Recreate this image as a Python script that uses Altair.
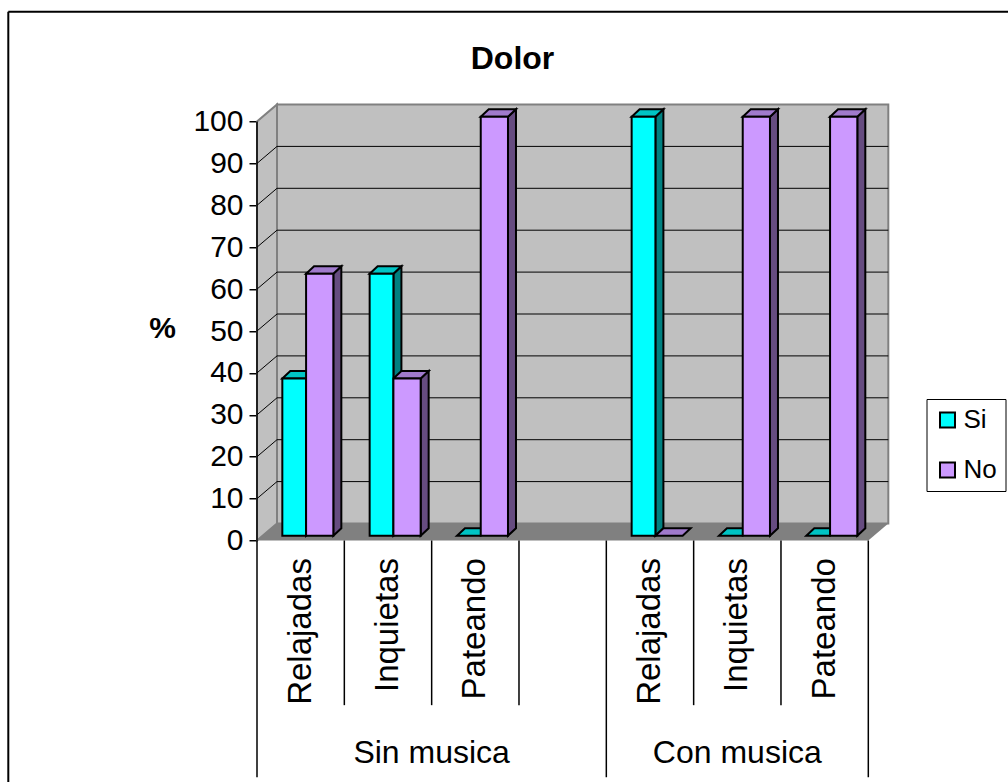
import altair as alt
import pandas as pd

# ---- chart values ----
title_text = "Dolor"
categories = ["Relajadas", "Inquietas", "Pateando", "", "Relajadas", "Inquietas", "Pateando"]
groups = ["Sin musica", "Con musica"]
group_spans = [(0, 4), (4, 7)]          # slot range covered by each group
series = ["Si", "No"]
si_values = [37.5, 62.5, 0, None, 100, 0, 0]
no_values = [62.5, 37.5, 100, None, 0, 100, 100]
y_ticks = list(range(0, 101, 10))

front_colors = ["#00FFFF", "#CC99FF"]
top_colors = ["#00C4C4", "#A07ACC"]
side_colors = ["#008080", "#664C80"]

FONT = "Liberation Sans"

# ---- 3D box geometry (x in category slots, y in percent) ----
N_SLOTS = len(categories)
SLOT_PX = 87.33
UNIT_PX = 4.19
WALL_DX = 20 / SLOT_PX
WALL_DY = 17 / UNIT_PX
XMAX = N_SLOTS + WALL_DX
YMAX = 100 + WALL_DY + 0.3
W = XMAX * SLOT_PX
H = YMAX * UNIT_PX

BAR_EDGES = [0.29, 0.562, 0.874]        # Si from edge0 to edge1, No from edge1 to edge2
BAR_DX = 8 / SLOT_PX
BAR_DY = 7.5 / UNIT_PX
BAR_BASE = 1.14

LABEL_TOP = -4.2
SHORT_SEP = -39.3
LONG_SEP = -56.5
GROUP_BASE = -53.1

PAD_L = 257
PAD_T = 540.5 - H

xs = alt.Scale(domain=[0, XMAX], nice=False, zero=False)
ys = alt.Scale(domain=[0, YMAX], nice=False, zero=False)

fronts, sides, tops = [], [], []
for s_i, (name, vals) in enumerate(zip(series, [si_values, no_values])):
    e0, e1 = BAR_EDGES[s_i], BAR_EDGES[s_i + 1]
    for i, v in enumerate(vals):
        if v is None:
            continue
        key = f"{name}-{i}"
        tops.append(dict(series=name, key=key, y=BAR_BASE + v, x=i + e0, x2=i + e1))
        tops.append(dict(series=name, key=key, y=BAR_BASE + v + BAR_DY,
                         x=i + e0 + BAR_DX, x2=i + e1 + BAR_DX))
        if v > 0:
            fronts.append(dict(series=name, x=i + e0, x2=i + e1, y=BAR_BASE, y2=BAR_BASE + v))
            sides.append(dict(series=name, key=key, x=i + e1, lo=BAR_BASE, hi=BAR_BASE + v))
            sides.append(dict(series=name, key=key, x=i + e1 + BAR_DX,
                              lo=BAR_BASE + BAR_DY, hi=BAR_BASE + v + BAR_DY))
fronts = pd.DataFrame(fronts)
sides = pd.DataFrame(sides)
tops = pd.DataFrame(tops)

one_row = pd.DataFrame({"k": [0]})

# ---- walls and floor ----
back_wall = alt.Chart(pd.DataFrame([dict(x=WALL_DX, x2=XMAX, y=WALL_DY, y2=100 + WALL_DY)])).mark_rect(
    fill="#C0C0C0", stroke="#808080", strokeWidth=2
).encode(
    x=alt.X("x:Q", scale=xs, axis=None),
    x2="x2:Q",
    y=alt.Y("y:Q", scale=ys, axis=alt.Axis(
        values=y_ticks, domain=False, grid=False, tickColor="#000000", tickSize=8, tickWidth=1.5,
        labelFont=FONT, labelFontSize=30, labelColor="#000000", labelPadding=6,
        title="%", titleAngle=0, titleFont=FONT, titleFontSize=30, titleFontWeight="bold",
        titleColor="#000000", titleX=-95, titleY=328 - PAD_T, titleAlign="center",
        titleBaseline="middle",
    )),
    y2="y2:Q",
)

left_wall = alt.Chart(pd.DataFrame([
    dict(x=0, lo=0, hi=100), dict(x=WALL_DX, lo=WALL_DY, hi=100 + WALL_DY)
])).mark_area(fill="#C0C0C0", stroke="#808080", strokeWidth=2).encode(
    x=alt.X("x:Q", scale=xs, axis=None),
    y=alt.Y("lo:Q", scale=ys, axis=None, stack=False),
    y2="hi:Q",
)

grid_back = alt.Chart(pd.DataFrame(dict(v=y_ticks[1:-1]))).transform_calculate(
    yb=f"datum.v + {WALL_DY}", xa=f"{WALL_DX}", xb=f"{XMAX}"
).mark_rule(color="#000000", strokeWidth=1).encode(
    x=alt.X("xa:Q", scale=xs, axis=None), x2="xb:Q", y=alt.Y("yb:Q", scale=ys, axis=None)
)

grid_left = alt.Chart(pd.DataFrame(dict(v=y_ticks[1:-1]))).transform_calculate(
    yb=f"datum.v + {WALL_DY}", xa="0", xb=f"{WALL_DX}"
).mark_rule(color="#000000", strokeWidth=1).encode(
    x=alt.X("xa:Q", scale=xs, axis=None), x2="xb:Q",
    y=alt.Y("v:Q", scale=ys, axis=None), y2="yb:Q"
)

floor = alt.Chart(pd.DataFrame([
    dict(y=0, x=0, x2=N_SLOTS), dict(y=WALL_DY, x=WALL_DX, x2=XMAX)
])).mark_area(orient="horizontal", fill="#808080").encode(
    y=alt.Y("y:Q", scale=ys, axis=None),
    x=alt.X("x:Q", scale=xs, axis=None, stack=False),
    x2="x2:Q",
)

# ---- bars ----
def side_layer(name, color):
    return alt.Chart(sides[sides.series == name]).mark_area(
        fill=color, stroke="#000000", strokeWidth=2, strokeJoin="miter"
    ).encode(
        x=alt.X("x:Q", scale=xs, axis=None),
        y=alt.Y("lo:Q", scale=ys, axis=None, stack=False),
        y2="hi:Q",
        detail="key:N",
    )

def top_layer(name, color):
    return alt.Chart(tops[tops.series == name]).mark_area(
        orient="horizontal", fill=color, stroke="#000000", strokeWidth=2, strokeJoin="miter"
    ).encode(
        y=alt.Y("y:Q", scale=ys, axis=None),
        x=alt.X("x:Q", scale=xs, axis=None, stack=False),
        x2="x2:Q",
        detail="key:N",
    )

front_layer = alt.Chart(fronts).mark_rect(stroke="#000000", strokeWidth=2, opacity=1).encode(
    x=alt.X("x:Q", scale=xs, axis=None),
    x2="x2:Q",
    y=alt.Y("y:Q", scale=ys, axis=None),
    y2="y2:Q",
    color=alt.Color("series:N", scale=alt.Scale(domain=series, range=front_colors),
                    legend=alt.Legend(
                        title=None, orient="none", legendX=926.5 - PAD_L, legendY=399 - PAD_T,
                        padding=8, strokeColor="#000000", fillColor="#FFFFFF",
                        symbolType="square", symbolSize=225, symbolStrokeColor="#000000",
                        symbolStrokeWidth=2, symbolOpacity=1,
                        labelFont=FONT, labelFontSize=26, labelColor="#000000",
                        labelOffset=3, rowPadding=24,
                    )),
)

# ---- category axis: separators and labels ----
sep_rows = []
for b in range(N_SLOTS + 1):
    long = b == 0 or any(b in span for span in group_spans)
    sep_rows.append(dict(x=b, y=0, y2=LONG_SEP if long else SHORT_SEP))
sep_rows[0]["y"] = 100
separators = alt.Chart(pd.DataFrame(sep_rows)).mark_rule(color="#000000", strokeWidth=1.5).encode(
    x=alt.X("x:Q", scale=xs, axis=None),
    y=alt.Y("y:Q", scale=ys, axis=None),
    y2="y2:Q",
)

cat_df = pd.DataFrame([dict(x=i + 0.5, y=LABEL_TOP, label=c) for i, c in enumerate(categories) if c])
cat_labels = alt.Chart(cat_df).mark_text(
    angle=270, align="right", baseline="middle", font=FONT, fontSize=33, color="#000000"
).encode(
    x=alt.X("x:Q", scale=xs, axis=None),
    y=alt.Y("y:Q", scale=ys, axis=None),
    text="label:N",
)

grp_df = pd.DataFrame([dict(x=(a + b) / 2, y=GROUP_BASE, label=g) for g, (a, b) in zip(groups, group_spans)])
grp_labels = alt.Chart(grp_df).mark_text(
    align="center", baseline="alphabetic", font=FONT, fontSize=32, color="#000000"
).encode(
    x=alt.X("x:Q", scale=xs, axis=None),
    y=alt.Y("y:Q", scale=ys, axis=None),
    text="label:N",
)

# ---- chart title and outer frame (placed in pixels relative to the plot origin) ----
title = alt.Chart(one_row).mark_text(
    text=title_text, font=FONT, fontSize=32, fontWeight="bold", color="#000000",
    align="center", baseline="alphabetic"
).encode(x=alt.value(512.5 - PAD_L), y=alt.value(69 - PAD_T))

frame_top = alt.Chart(one_row).mark_rule(color="#000000", strokeWidth=2).encode(
    x=alt.value(8.3 - PAD_L), x2=alt.value(1020 - PAD_L), y=alt.value(11.7 - PAD_T)
)
frame_left = alt.Chart(one_row).mark_rule(color="#000000", strokeWidth=2).encode(
    x=alt.value(8.3 - PAD_L), y=alt.value(11.7 - PAD_T), y2=alt.value(800 - PAD_T)
)

chart = alt.layer(
    back_wall, left_wall, grid_back, grid_left, floor,
    side_layer("Si", side_colors[0]), top_layer("Si", top_colors[0]),
    side_layer("No", side_colors[1]), top_layer("No", top_colors[1]),
    front_layer,
    separators, cat_labels, grp_labels,
    title, frame_top, frame_left,
).resolve_axis(
    x="independent", y="independent"
).properties(
    width=W,
    height=H,
    autosize=alt.AutoSizeParams(type="none"),
    padding={"left": PAD_L, "top": PAD_T, "right": 1008 - PAD_L - W, "bottom": 782 - 540.5},
    background="#FFFFFF",
).configure_view(strokeWidth=0)

chart.save("out.html", embed_options={"renderer": "svg", "actions": False})
